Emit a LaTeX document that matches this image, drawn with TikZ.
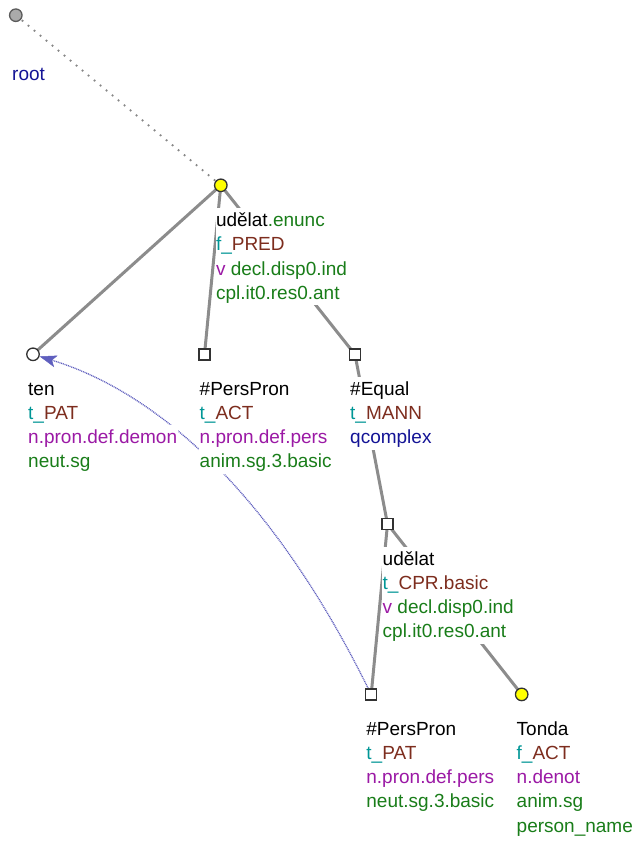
\documentclass[tikz,border=0pt]{standalone}
\usepackage{fontspec}
\setmainfont{Liberation Sans}
\usetikzlibrary{arrows.meta}
\pgfdeclarelayer{bg}
\pgfsetlayers{bg,main}
\definecolor{cgreen}{RGB}{25,125,25}
\definecolor{cteal}{RGB}{0,150,150}
\definecolor{cbrown}{RGB}{125,45,30}
\definecolor{cpurple}{RGB}{155,25,165}
\definecolor{cblue}{RGB}{20,20,150}
\definecolor{edgegray}{RGB}{140,140,140}
\definecolor{dotgray}{RGB}{135,135,135}
\definecolor{symline}{RGB}{50,50,50}
\definecolor{corefblue}{RGB}{95,95,190}
\definecolor{rootfill}{RGB}{170,170,170}
\definecolor{yellowfill}{RGB}{255,255,0}
\newcommand\tlines[1]{\vtop{\baselineskip=24.3pt\lineskip=0pt\lineskiplimit=-50pt\halign{##\hfil\cr#1\crcr}}}
\newcommand\wl[1]{{\fboxsep=0.5pt\colorbox{white}{\rule[-5.5pt]{0pt}{23.3pt}#1}}}
\begin{document}
\begin{tikzpicture}[x=1pt,y=-1pt,
  lbl/.style={anchor=base west, inner sep=0pt, font=\fontsize{19}{24}\selectfont},
  tsq/.style={rectangle, draw=symline, fill=white, line width=1.3pt, minimum size=11pt, inner sep=0pt},
  tcirc/.style={circle, draw=symline, fill=white, line width=1.3pt, minimum size=12.5pt, inner sep=0pt},
  edgeline/.style={draw=edgegray, line width=3pt},
  rootedge/.style={draw=dotgray, line width=1.8pt, dash pattern=on 1.8pt off 6pt},
  corefarrow/.style={draw=corefblue, line width=1.3pt, dash pattern=on 1pt off 0.8pt, -{Stealth[length=17pt,width=12pt,inset=4pt,fill=corefblue,line width=0.5pt]}}]
\useasboundingbox (0,0) rectangle (636,841);
% node symbols
\node[tcirc, fill=rootfill, draw=symline!80] (root) at (15.8,15.2) {};
\node[tcirc, fill=yellowfill] (u1) at (220.8,185.3) {};
\node[tcirc] (ten) at (33,354.3) {};
\node[tsq] (pp1) at (204.5,354.5) {};
\node[tsq] (eq) at (355,354.5) {};
\node[tsq] (u2) at (387.5,524) {};
\node[tsq] (pp2) at (371.2,694.5) {};
\node[tcirc, fill=yellowfill] (tonda) at (521.7,694.4) {};
% labels
\node[lbl] (lroot) at (11.5,80) {\tlines{\wl{\textcolor{cblue}{root}}}};
\node[lbl] (lu1) at (215.3,226.5) {\tlines{\wl{udělat\textcolor{cgreen}{.enunc}}\cr
  \wl{\textcolor{cteal}{f\_}\textcolor{cbrown}{PRED}}\cr
  \wl{\textcolor{cpurple}{v}\ \textcolor{cgreen}{decl.disp0.ind}}\cr
  \wl{\textcolor{cgreen}{cpl.it0.res0.ant}}}};
\node[lbl] (lten) at (27.5,395) {\tlines{\wl{ten}\cr
  \wl{\textcolor{cteal}{t\_}\textcolor{cbrown}{PAT}}\cr
  \wl{\textcolor{cpurple}{n.pron.def.demon}}\cr
  \wl{\textcolor{cgreen}{neut.sg}}}};
\node[lbl] (lpp1) at (199,395) {\tlines{\wl{\#PersPron}\cr
  \wl{\textcolor{cteal}{t\_}\textcolor{cbrown}{ACT}}\cr
  \wl{\textcolor{cpurple}{n.pron.def.pers}}\cr
  \wl{\textcolor{cgreen}{anim.sg.3.basic}}}};
\node[lbl] (leq) at (349.5,395) {\tlines{\wl{\#Equal}\cr
  \wl{\textcolor{cteal}{t\_}\textcolor{cbrown}{MANN}}\cr
  \wl{\textcolor{cblue}{qcomplex}}}};
\node[lbl] (lu2) at (382,565) {\tlines{\wl{udělat}\cr
  \wl{\textcolor{cteal}{t\_}\textcolor{cbrown}{CPR.basic}}\cr
  \wl{\textcolor{cpurple}{v}\ \textcolor{cgreen}{decl.disp0.ind}}\cr
  \wl{\textcolor{cgreen}{cpl.it0.res0.ant}}}};
\node[lbl] (lpp2) at (365.7,735) {\tlines{\wl{\#PersPron}\cr
  \wl{\textcolor{cteal}{t\_}\textcolor{cbrown}{PAT}}\cr
  \wl{\textcolor{cpurple}{n.pron.def.pers}}\cr
  \wl{\textcolor{cgreen}{neut.sg.3.basic}}}};
\node[lbl] (ltonda) at (516,735) {\tlines{\wl{Tonda}\cr
  \wl{\textcolor{cteal}{f\_}\textcolor{cbrown}{ACT}}\cr
  \wl{\textcolor{cpurple}{n.denot}}\cr
  \wl{\textcolor{cgreen}{anim.sg}}\cr
  \wl{\textcolor{cgreen}{person\_name}}}};
% edges
\begin{pgfonlayer}{bg}
\draw[rootedge] (root.center) -- (u1.center);
\draw[edgeline] (u1.center) -- (ten.center);
\draw[edgeline] (u1.center) -- (pp1.center);
\draw[edgeline] (u1.center) -- (eq.center);
\draw[edgeline] (eq.center) -- (u2.center);
\draw[edgeline] (u2.center) -- (pp2.center);
\draw[edgeline] (u2.center) -- (tonda.center);
\draw[corefarrow] (pp2) .. controls (278.5,507) and (167.8,396) .. (ten);
\end{pgfonlayer}
\end{tikzpicture}
\end{document}
